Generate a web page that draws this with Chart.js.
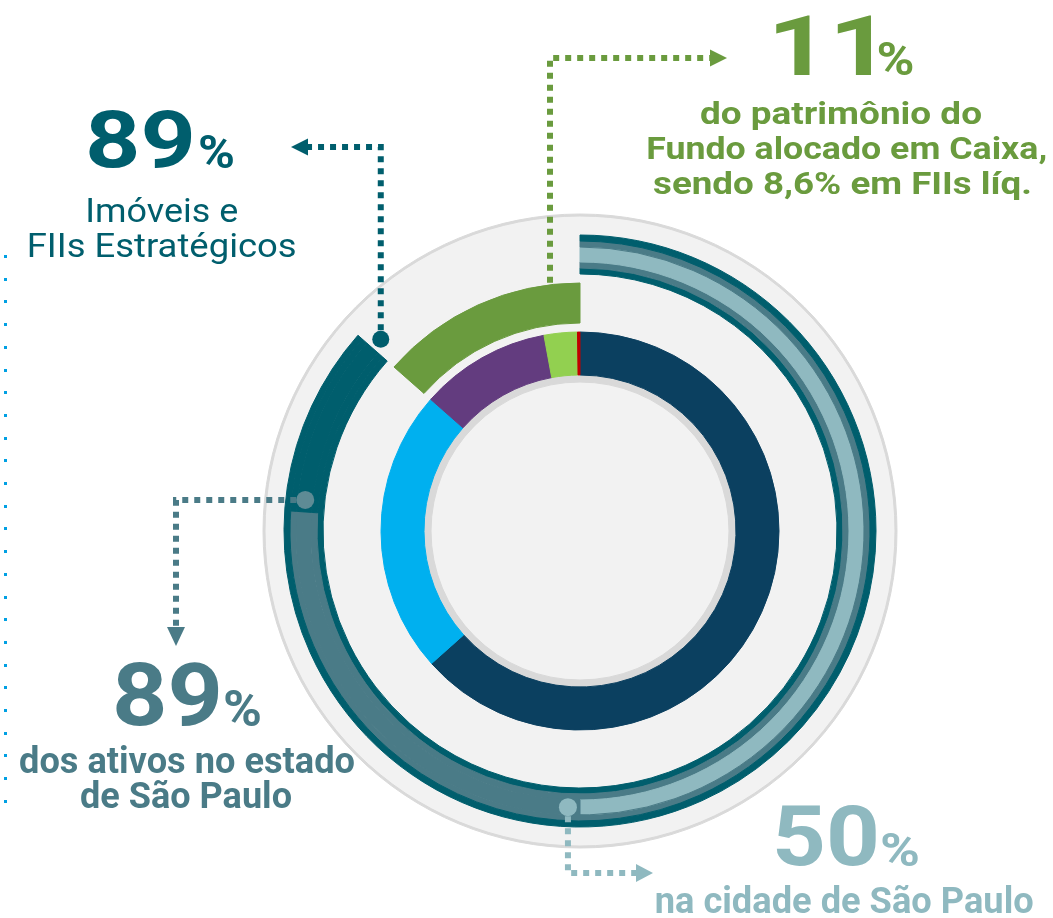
<!DOCTYPE html>
<html><head><meta charset="utf-8">
<script src="https://cdn.jsdelivr.net/npm/chart.js@4.4.1/dist/chart.umd.min.js"></script>
<style>
html,body{margin:0;padding:0;background:#fff;}
#wrap{position:relative;width:1053px;height:918px;overflow:hidden;}
#c{position:absolute;left:0;top:0;}
#labels{position:absolute;left:0;top:0;}
#labels text{font-family:Roboto,"DejaVu Sans",sans-serif;}
</style></head>
<body>
<div id="wrap">
<canvas id="c" width="1053" height="918"></canvas>
<svg id="labels" xmlns="http://www.w3.org/2000/svg" width="1053" height="918"></svg>
</div>
<script>
// ---------- data ----------
const ringLabels = ['Imóveis e FIIs Estratégicos', 'Ativos no estado de São Paulo', 'Ativos na cidade de São Paulo'];
const ringShares = [86.5, 76.1, 50.0];          // % of the full circle covered by each teal arc
const cashLabel = 'Caixa';
const cashShare = 13.5;                          // green arc
const innerLabels = ['Imóveis', 'FIIs estratégicos', 'FIIs líquidos', 'Caixa', 'Outros'];
const innerValues = [63.4, 23.1, 10.6, 2.7, 0.2];
const calloutValues = ['89', '11', '89', '50'];
const calloutLines = [
  ['Imóveis e', 'FIIs Estratégicos'],
  ['do patrimônio do', 'Fundo alocado em Caixa,', 'sendo 8,6% em FIIs líq.'],
  ['dos ativos no estado', 'de São Paulo'],
  ['na cidade de São Paulo']
];

// ---------- styles ----------
const DARK = '#005e6d', MID = '#4a7b87', LIGHT = '#8fb9c0', GREEN = '#6a9b3e';
const GRAY = '#d9d9d9', BG = '#f2f2f2', T = 'rgba(0,0,0,0)';
const innerColors = ['#0b4060', '#00b0ef', '#633c7f', '#92d050', '#c00000'];

const [dark, mid, light] = ringShares;
function ring(w, data, colors) {
  return { data, weight: w, backgroundColor: colors,
    borderColor: colors, borderWidth: colors.map(c => c === T ? 0 : 1) };
}
const datasets = [
  ring(2, [100], [GRAY]),
  ring(19, [100], [T]),
  ring(6, [dark, 100 - dark], [DARK, T]),
  ring(6, [mid, dark - mid, 100 - dark], [MID, DARK, T]),
  ring(15, [light, mid - light, dark - mid, 100 - dark], [LIGHT, MID, DARK, T]),
  ring(6, [mid, dark - mid, 100 - dark], [MID, DARK, T]),
  ring(6, [dark, 100 - dark], [DARK, T]),
  ring(9, [100], [T]),
  ring(40, [100 - cashShare, cashShare], [T, GREEN]),
  ring(9, [100], [T]),
  ring(43, innerValues, innerColors),
  ring(7, [100], [GRAY]),
  ring(149, [100], [T])
];

function dotted(ctx, pts, color, w, dash) {
  ctx.save();
  ctx.strokeStyle = color; ctx.lineWidth = w; ctx.setLineDash(dash);
  ctx.lineCap = 'butt';
  ctx.beginPath(); ctx.moveTo(pts[0][0], pts[0][1]);
  for (let i = 1; i < pts.length; i++) ctx.lineTo(pts[i][0], pts[i][1]);
  ctx.stroke(); ctx.restore();
}
function tri(ctx, p, color) {
  ctx.save(); ctx.fillStyle = color; ctx.beginPath();
  ctx.moveTo(p[0][0], p[0][1]); ctx.lineTo(p[1][0], p[1][1]); ctx.lineTo(p[2][0], p[2][1]);
  ctx.closePath(); ctx.fill(); ctx.restore();
}
function dot(ctx, p, r, color) {
  ctx.save(); ctx.fillStyle = color; ctx.beginPath();
  ctx.arc(p[0], p[1], r, 0, Math.PI * 2); ctx.fill(); ctx.restore();
}

const decor = {
  id: 'decor',
  beforeDatasetsDraw(chart) {
    const a = chart.getDatasetMeta(0).data[0];
    const ctx = chart.ctx;
    ctx.save(); ctx.fillStyle = BG; ctx.beginPath();
    ctx.arc(a.x, a.y, a.outerRadius - 1, 0, Math.PI * 2); ctx.fill(); ctx.restore();
  },
  afterDatasetsDraw(chart) {
    const ctx = chart.ctx;
    const a0 = chart.getDatasetMeta(0).data[0];
    const cx = a0.x, cy = a0.y;
    const cArc = chart.getDatasetMeta(2).data[0];
    const dArc = chart.getDatasetMeta(3).data[0];
    const eArc = chart.getDatasetMeta(4).data[0];
    const gArc = chart.getDatasetMeta(6).data[0];
    const iArc = chart.getDatasetMeta(8).data[1];
    const rMid = (cArc.outerRadius + gArc.innerRadius) / 2;
    const off = 2.5 * Math.PI / 180;
    const pt = a => [cx + rMid * Math.cos(a), cy + rMid * Math.sin(a)];
    const mDark = pt(cArc.endAngle + off);
    const mMid = pt(dArc.endAngle + off);
    const mLight = pt(eArc.endAngle + off);
    const gx = 550;
    const gy = cy - Math.sqrt(iArc.outerRadius ** 2 - (gx - cx) ** 2);

    dotted(ctx, [[mDark[0], mDark[1] - 9], [mDark[0], 147], [308, 147]], DARK, 6, [6, 6]);
    tri(ctx, [[291, 147], [308, 138.5], [308, 155.5]], DARK);

    dotted(ctx, [[gx, gy - 2], [gx, 58], [710, 58]], GREEN, 6, [6, 6]);
    tri(ctx, [[727, 58], [710, 49.5], [710, 66.5]], GREEN);

    dotted(ctx, [[mMid[0] - 9, mMid[1]], [176, mMid[1]], [176, 627]], MID, 6, [6, 6]);
    tri(ctx, [[176, 646], [167, 627], [185, 627]], MID);

    dotted(ctx, [[mLight[0], mLight[1] + 9], [mLight[0], 873], [636, 873]], LIGHT, 6, [6, 6]);
    tri(ctx, [[653, 873], [636, 864], [636, 882]], LIGHT);

    dot(ctx, mDark, 8.5, DARK);
    dot(ctx, mMid, 9, '#5e8b95');
    dot(ctx, mLight, 9, LIGHT);

    ctx.save(); ctx.fillStyle = '#00a0e3';
    for (let i = 0; i < 25; i++) ctx.fillRect(4, Math.round(255 + i * 22.7), 3, 3);
    ctx.restore();
  }
};

new Chart(document.getElementById('c'), {
  type: 'doughnut',
  data: { labels: innerLabels, datasets },
  options: {
    responsive: false, animation: false, events: [],
    radius: 317, cutout: 0,
    layout: { padding: { left: 107, right: 0, top: 144, bottom: 0 } },
    plugins: { legend: { display: false }, tooltip: { enabled: false } }
  },
  plugins: [decor]
});

// ---------- text ----------
const NS = 'http://www.w3.org/2000/svg';
const svg = document.getElementById('labels');
function addText(str, x, y, size, weight, color, len) {
  const t = document.createElementNS(NS, 'text');
  t.setAttribute('x', x); t.setAttribute('y', y);
  t.setAttribute('text-anchor', 'middle');
  t.setAttribute('font-size', size); t.setAttribute('font-weight', weight);
  t.setAttribute('fill', color);
  if (len) { t.setAttribute('textLength', len); t.setAttribute('lengthAdjust', 'spacingAndGlyphs'); }
  t.textContent = str; svg.appendChild(t);
}
addText(calloutValues[0], 140.5, 167, 80, 700, DARK, 111);
addText('%', 216.5, 168, 46, 700, DARK, 37);
addText(calloutLines[0][0], 161.7, 221.7, 34, 400, DARK, 153);
addText(calloutLines[0][1], 161.7, 256.7, 34, 400, DARK, 270);

addText(calloutValues[1], 829, 75, 84, 700, GREEN, 123);
addText('%', 895.5, 75, 46, 700, GREEN, 38);
addText(calloutLines[1][0], 841, 123.5, 30.5, 700, GREEN, 282);
addText(calloutLines[1][1], 846.7, 158.7, 30.5, 700, GREEN, 401);
addText(calloutLines[1][2], 842.5, 194, 30.5, 700, GREEN, 379);

addText(calloutValues[2], 167.5, 725, 88, 700, MID, 111);
addText('%', 242.5, 726, 50, 700, MID, 39);
addText(calloutLines[2][0], 187, 773.3, 36, 700, MID, 336);
addText(calloutLines[2][1], 186, 808, 36, 700, MID, 212);

addText(calloutValues[3], 826, 865, 84, 700, LIGHT, 108);
addText('%', 900, 866, 46, 700, LIGHT, 40);
addText(calloutLines[3][0], 844.2, 913.3, 36, 700, LIGHT, 379);
</script>
</body></html>
